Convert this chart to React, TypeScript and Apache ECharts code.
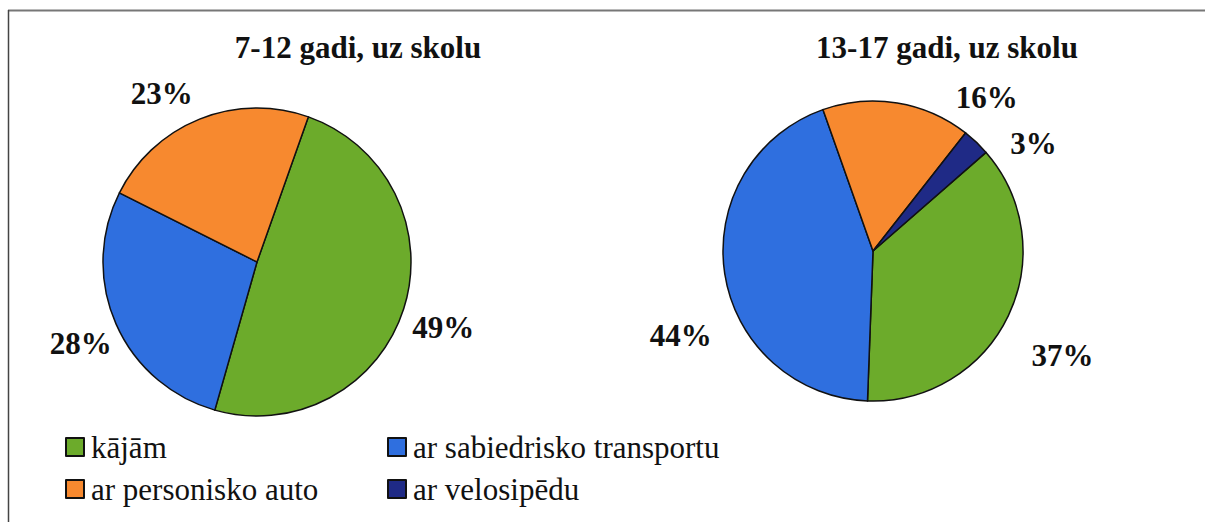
import React, { useEffect, useRef } from "react";
import * as echarts from "echarts";

const categories = ["kājām", "ar sabiedrisko transportu", "ar personisko auto", "ar velosipēdu"];
const young = [49, 28, 23, 0]; // 7-12 gadi
const teen = [37, 44, 16, 3]; // 13-17 gadi
const titles = ["7-12 gadi, uz skolu", "13-17 gadi, uz skolu"];

const colors = ["#6cab2b", "#2f6fdf", "#f7892f", "#1f2a86"];
// label nudges (style) per slice, [dx, dy]
const nudgeYoung = [[-6, 16], [10, 16], [2, -16], [0, 0]];
const nudgeTeen = [[9, 36], [2, 60], [52, 4], [22, 9]];

const FONT = "Liberation Serif";

export default function App() {
  const ref = useRef<HTMLDivElement>(null);
  useEffect(() => {
    if (!ref.current) return;
    const chart = echarts.init(ref.current, undefined, { renderer: "svg" });
    const mk = (vals: number[]) =>
      categories
        .map((name, i) => ({ name, value: vals[i], itemStyle: { color: colors[i] } }))
        .filter((d) => d.value > 0);
    const pieBase = (center: [number, number], r: number, startAngle: number, nudges: number[][]) => ({
      type: "pie",
      center,
      radius: r,
      startAngle,
      clockwise: true,
      avoidLabelOverlap: false,
      itemStyle: { borderColor: "#111", borderWidth: 1.5 },
      label: {
        show: true,
        position: "outside",
        formatter: "{c}%",
        fontFamily: FONT,
        fontWeight: "bold",
        fontSize: 31,
        color: "#111",
      },
      labelLine: { show: false, length: 10, length2: 0 },
      labelLayout: (p: any) => {
        const n = nudges[p.dataIndex] || [0, 0];
        return { dx: n[0], dy: n[1] };
      },
      emphasis: { disabled: true },
    });
    const s1: any = pieBase([257, 262], 154, 70.5, nudgeYoung);
    s1.data = mk(young);
    s1.name = titles[0];
    const s2: any = pieBase([873, 251], 150, 41.1, nudgeTeen);
    s2.data = mk(teen);
    s2.name = titles[1];

    const legendCommon = {
      orient: "vertical",
      icon: "rect",
      itemWidth: 18,
      itemHeight: 18,
      itemGap: 8,
      selectedMode: false,
      textStyle: {
        fontFamily: FONT,
        fontSize: 31,
        color: "#111",
        padding: [0, 0, 0, 2],
        lineHeight: 34,
      },
    };

    chart.setOption({
      animation: false,
      backgroundColor: "#fff",
      title: [
        {
          text: titles[0],
          left: 353,
          top: 27,
          textAlign: "center",
          textStyle: { fontFamily: FONT, fontWeight: "bold", fontSize: 31, color: "#111" },
        },
        {
          text: titles[1],
          left: 942,
          top: 27,
          textAlign: "center",
          textStyle: { fontFamily: FONT, fontWeight: "bold", fontSize: 31, color: "#111" },
        },
      ],
      legend: [
        { ...legendCommon, left: 60, top: 425, data: [categories[0], categories[2]] },
        { ...legendCommon, left: 382, top: 425, data: [categories[1], categories[3]] },
      ],
      graphic: [
        { type: "line", shape: { x1: 8, y1: 10.5, x2: 1205, y2: 10.5 }, style: { stroke: "#777", lineWidth: 2 } },
        { type: "line", shape: { x1: 8.5, y1: 10, x2: 8.5, y2: 522 }, style: { stroke: "#444", lineWidth: 1.5 } },
      ],
      series: [s1, s2],
    });
    return () => chart.dispose();
  }, []);
  return (
    <div
      ref={ref}
      style={{ position: "fixed", left: 0, top: 0, width: 1205, height: 522, background: "#fff" }}
    />
  );
}
